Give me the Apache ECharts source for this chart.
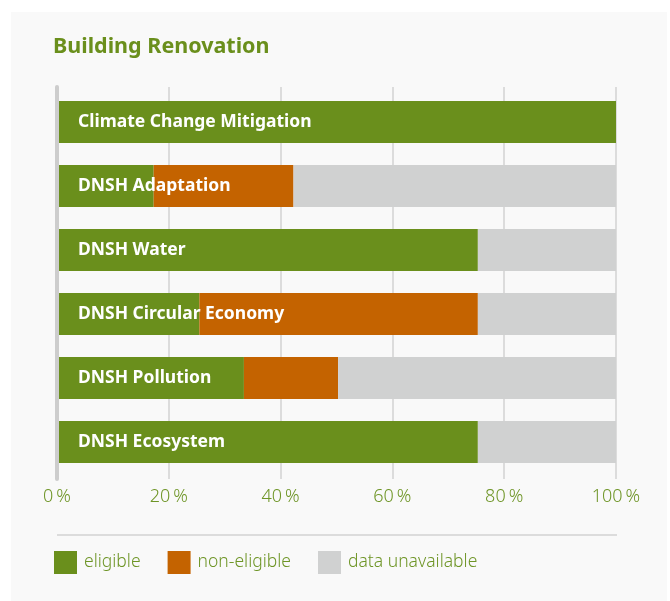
<!DOCTYPE html>
<html>
<head>
<meta charset="utf-8">
<script src="https://cdn.jsdelivr.net/npm/echarts@6/dist/echarts.min.js"></script>
<style>
  html, body { margin: 0; padding: 0; background: #ffffff; }
  #panel { position: absolute; left: 11px; top: 12px; width: 656px; height: 600px; background: #f9f9f9; }
  #chart { position: absolute; left: 0; top: 0; width: 670px; height: 601px; }
</style>
</head>
<body>
<div id="panel"></div>
<div id="chart"></div>
<script>
// data (percent per criterion)
const categories = ['Climate Change Mitigation', 'DNSH Adaptation', 'DNSH Water',
  'DNSH Circular Economy', 'DNSH Pollution', 'DNSH Ecosystem'];
const eligible = [100, 17.0, 75.2, 25.2, 33.2, 75.2];
const nonEligible = [0, 25.1, 0, 50.0, 16.9, 0];
const unavailable = [0, 57.9, 24.8, 24.8, 49.9, 24.8];
const xTicks = [0, 20, 40, 60, 80, 100];

const GREEN = '#6a8f1c';
const ORANGE = '#c46300';
const GREY = '#d0d1d1';
const TEXT = '#6e9526';
const FONT = '"Noto Sans", "Open Sans", sans-serif';

const chart = echarts.init(document.getElementById('chart'), null, { renderer: 'canvas' });

const option = {
  backgroundColor: 'transparent',
  animation: false,
  title: {
    text: 'Building Renovation',
    left: 48,
    top: 31,
    textStyle: { color: GREEN, fontSize: 21.5, fontWeight: 'bold', fontFamily: FONT }
  },
  legend: {
    left: 54,
    top: 551,
    padding: 0,
    itemWidth: 23,
    itemHeight: 23,
    itemGap: 27,
    icon: 'rect',
    data: ['eligible', 'non-eligible', 'data unavailable'],
    textStyle: { color: TEXT, fontSize: 17.5, fontWeight: 300, fontFamily: FONT, padding: [0, 0, 0, 2] }
  },
  grid: [
    // gridlines and ticks
    { left: 57, right: 54, top: 87, height: 392 },
    // bars
    { left: 59, right: 54, top: 90, height: 384 }
  ],
  xAxis: [
    {
      gridIndex: 0,
      type: 'value',
      min: xTicks[0],
      max: xTicks[xTicks.length - 1],
      interval: 20,
      axisLine: { show: false },
      axisTick: { show: false },
      splitLine: { lineStyle: { color: '#dcdcdc', width: 2 } },
      axisLabel: {
        margin: 9,
        color: TEXT,
        fontSize: 18,
        fontWeight: 300,
        fontFamily: FONT,
        formatter: v => v + '\u2009%'
      }
    },
    {
      gridIndex: 1,
      type: 'value',
      min: 0,
      max: 100,
      show: false
    }
  ],
  yAxis: [
    {
      gridIndex: 0,
      type: 'category',
      data: [''],
      z: 5,
      axisLine: { lineStyle: { color: '#cdcdcd', width: 4 } },
      axisTick: { show: false },
      axisLabel: { show: false }
    },
    {
      gridIndex: 1,
      type: 'category',
      inverse: true,
      data: categories,
      z: 6,
      axisLine: { show: false },
      axisTick: { show: false },
      axisLabel: {
        inside: true,
        margin: 19,
        padding: [6, 0, 0, 0],
        color: '#ffffff',
        fontSize: 17.5,
        fontWeight: 'bold',
        fontFamily: FONT
      }
    }
  ],
  series: [
    {
      name: 'eligible',
      type: 'bar',
      stack: 'total',
      xAxisIndex: 1,
      yAxisIndex: 1,
      barWidth: 42,
      itemStyle: { color: GREEN },
      data: eligible
    },
    {
      name: 'non-eligible',
      type: 'bar',
      stack: 'total',
      xAxisIndex: 1,
      yAxisIndex: 1,
      barWidth: 42,
      itemStyle: { color: ORANGE },
      data: nonEligible
    },
    {
      name: 'data unavailable',
      type: 'bar',
      stack: 'total',
      xAxisIndex: 1,
      yAxisIndex: 1,
      barWidth: 42,
      itemStyle: { color: GREY },
      data: unavailable
    }
  ],
  graphic: [
    {
      type: 'line',
      shape: { x1: 57, y1: 535, x2: 617, y2: 535 },
      style: { stroke: '#dcdcdc', lineWidth: 2 }
    }
  ]
};

chart.setOption(option);
</script>
</body>
</html>
